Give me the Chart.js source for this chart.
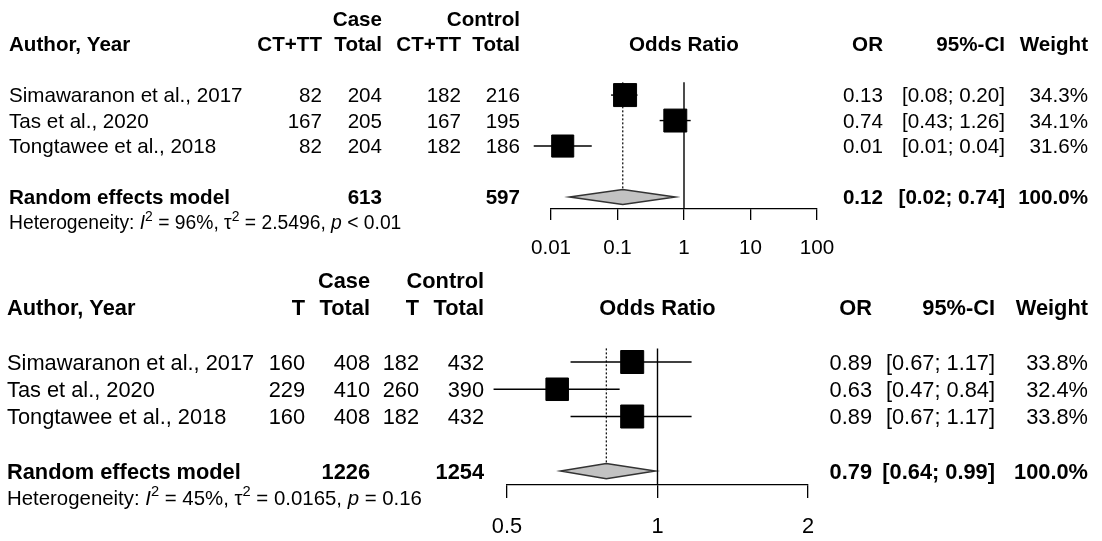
<!DOCTYPE html>
<html>
<head>
<meta charset="utf-8">
<script src="https://cdn.jsdelivr.net/npm/chart.js@4.4.1/dist/chart.umd.min.js"></script>
<style>
  html, body { margin: 0; padding: 0; background: #fff; }
  #wrap { position: relative; width: 1102px; height: 541px; overflow: hidden; background: #fff; }
  .panel { position: absolute; left: 0; width: 1102px; }
</style>
</head>
<body>
<div id="wrap">
  <div class="panel" style="top:0;height:265px"><canvas id="cA"></canvas></div>
  <div class="panel" style="top:265px;height:276px"><canvas id="cB"></canvas></div>
</div>
<script>
// ---------------- DATA ----------------
const studyNames = ["Simawaranon et al., 2017", "Tas et al., 2020", "Tongtawee et al., 2018"];
const studyRows = [1, 2, 3];
const pooledRow = 5;
const pooledLabel = "Random effects model";

// Panel A : CT+TT
const aEventLabel = "CT+TT";
const aCaseEvents = [82, 167, 82];
const aCaseTotals = [204, 205, 204];
const aCtrlEvents = [182, 167, 182];
const aCtrlTotals = [216, 195, 186];
const aOR    = [0.13, 0.74, 0.015];
const aLower = [0.08, 0.43, 0.0055];
const aUpper = [0.20, 1.26, 0.041];
const aORText = ["0.13", "0.74", "0.01"];
const aCIText = ["[0.08; 0.20]", "[0.43; 1.26]", "[0.01; 0.04]"];
const aWeights = [34.3, 34.1, 31.6];
const aPooled = [0.12, 0.019, 0.74];            // OR, lower, upper
const aPooledText = ["0.12", "[0.02; 0.74]", "100.0%"];
const aTicks = [0.01, 0.1, 1, 10, 100];
const aTickLabels = ["0.01", "0.1", "1", "10", "100"];
const aHet = ["96%", "2.5496", "< 0.01"];      // I^2, tau^2, p

// Panel B : T
const bEventLabel = "T";
const bCaseEvents = [160, 229, 160];
const bCaseTotals = [408, 410, 408];
const bCtrlEvents = [182, 260, 182];
const bCtrlTotals = [432, 390, 432];
const bOR    = [0.89, 0.63, 0.89];
const bLower = [0.67, 0.47, 0.67];
const bUpper = [1.17, 0.84, 1.17];
const bORText = ["0.89", "0.63", "0.89"];
const bCIText = ["[0.67; 1.17]", "[0.47; 0.84]", "[0.67; 1.17]"];
const bWeights = [33.8, 32.4, 33.8];
const bPooled = [0.79, 0.64, 0.99];
const bPooledText = ["0.79", "[0.64; 0.99]", "100.0%"];
const bTicks = [0.5, 1, 2];
const bTickLabels = ["0.5", "1", "2"];
const bHet = ["45%", "0.0165", "= 0.16"];

// ---------------- STYLE ----------------
const FONT = '"Liberation Sans", Arial, Helvetica, sans-serif';
const styleA = { canvas: 'cA', font: 20.6, hetFont: 19.3, leftX: 9, colX: [322, 382, 461, 520],
  rightX: [883, 1005, 1088], padL: 551, padR: 285, padB: 0, yMin: -2.73, yMax: 5.47,
  axisH: 56, tickLen: 11, tickPad: 16, box: 23, diamondH: 0.29, textDy: 1.5 };
const styleB = { canvas: 'cB', font: 21.8, hetFont: 20.4, leftX: 7, colX: [305, 370, 419, 484],
  rightX: [872, 995, 1088], padL: 507, padR: 294, padB: 0, yMin: -2.56, yMax: 5.513,
  axisH: 56, tickLen: 13, tickPad: 16, box: 23, diamondH: 0.28, textDy: 1.5 };

function sum(a) { return a.reduce((s, v) => s + v, 0); }

function makePanel(d, st) {
  const maxW = Math.max(...d.weights);
  const sides = d.weights.map(w => st.box * Math.sqrt(w / maxW));

  const datasets = [];
  // study squares
  datasets.push({
    type: 'scatter', order: 0, clip: false,
    data: d.or.map((v, i) => ({ x: v, y: studyRows[i] })),
    pointStyle: 'rect',
    pointRadius: sides.map(s => s / Math.SQRT2),
    backgroundColor: '#000', borderColor: '#000', pointBorderWidth: 1
  });
  // confidence interval lines
  d.or.forEach((v, i) => {
    datasets.push({
      type: 'line', order: 2, clip: false,
      data: [{ x: d.lower[i], y: studyRows[i] }, { x: d.upper[i], y: studyRows[i] }],
      borderColor: '#000', borderWidth: 1.4, pointRadius: 0, fill: false
    });
  });
  // reference line at OR = 1
  datasets.push({
    type: 'line', order: 3, clip: false,
    data: [{ x: 1, y: 0.5 }, { x: 1, y: st.yMax }],
    borderColor: '#000', borderWidth: 1.4, pointRadius: 0, fill: false
  });
  // dotted pooled line
  datasets.push({
    type: 'line', order: 3, clip: false,
    data: [{ x: d.pooled[0], y: 0.5 }, { x: d.pooled[0], y: pooledRow - st.diamondH }],
    borderColor: '#000', borderWidth: 1.2, borderDash: [2, 2], pointRadius: 0, fill: false
  });

  const diamondPlugin = {
    id: 'diamond',
    beforeDatasetsDraw(chart) {
      const x = chart.scales.x, y = chart.scales.y, ctx = chart.ctx;
      const [est, lo, hi] = d.pooled;
      ctx.save();
      ctx.beginPath();
      ctx.moveTo(x.getPixelForValue(lo), y.getPixelForValue(pooledRow));
      ctx.lineTo(x.getPixelForValue(est), y.getPixelForValue(pooledRow - st.diamondH));
      ctx.lineTo(x.getPixelForValue(hi), y.getPixelForValue(pooledRow));
      ctx.lineTo(x.getPixelForValue(est), y.getPixelForValue(pooledRow + st.diamondH));
      ctx.closePath();
      ctx.fillStyle = '#c2c2c2';
      ctx.fill();
      ctx.lineWidth = 1.5;
      ctx.strokeStyle = '#333';
      ctx.stroke();
      ctx.restore();
    }
  };

  const textPlugin = {
    id: 'tableText',
    afterDraw(chart) {
      const ctx = chart.ctx, y = chart.scales.y, ca = chart.chartArea;
      const py = v => y.getPixelForValue(v) + st.textDy;
      const put = (t, px, row, align, bold, size) => {
        ctx.font = (bold ? 'bold ' : '') + (size || st.font) + 'px ' + FONT;
        ctx.textAlign = align; ctx.textBaseline = 'middle'; ctx.fillStyle = '#000';
        ctx.fillText(String(t), px, py(row));
      };
      ctx.save();
      // headers
      put('Case', st.colX[1], -2, 'right', true);
      put('Control', st.colX[3], -2, 'right', true);
      put('Author, Year', st.leftX, -1, 'left', true);
      put(d.eventLabel, st.colX[0], -1, 'right', true);
      put('Total', st.colX[1], -1, 'right', true);
      put(d.eventLabel, st.colX[2], -1, 'right', true);
      put('Total', st.colX[3], -1, 'right', true);
      put('Odds Ratio', (ca.left + ca.right) / 2, -1, 'center', true);
      put('OR', st.rightX[0], -1, 'right', true);
      put('95%-CI', st.rightX[1], -1, 'right', true);
      put('Weight', st.rightX[2], -1, 'right', true);
      // study rows
      studyNames.forEach((n, i) => {
        const r = studyRows[i];
        put(n, st.leftX, r, 'left', false);
        put(d.caseEvents[i], st.colX[0], r, 'right', false);
        put(d.caseTotals[i], st.colX[1], r, 'right', false);
        put(d.ctrlEvents[i], st.colX[2], r, 'right', false);
        put(d.ctrlTotals[i], st.colX[3], r, 'right', false);
        put(d.orText[i], st.rightX[0], r, 'right', false);
        put(d.ciText[i], st.rightX[1], r, 'right', false);
        put(d.weights[i].toFixed(1) + '%', st.rightX[2], r, 'right', false);
      });
      // pooled row
      put(pooledLabel, st.leftX, pooledRow, 'left', true);
      put(sum(d.caseTotals), st.colX[1], pooledRow, 'right', true);
      put(sum(d.ctrlTotals), st.colX[3], pooledRow, 'right', true);
      put(d.pooledText[0], st.rightX[0], pooledRow, 'right', true);
      put(d.pooledText[1], st.rightX[1], pooledRow, 'right', true);
      put(d.pooledText[2], st.rightX[2], pooledRow, 'right', true);
      // heterogeneity (rich text)
      const hs = st.hetFont;
      const segs = [
        ['Heterogeneity: ', ''], ['I', 'i'], ['2', 's'], [' = ' + d.het[0] + ', ', ''],
        ['\u03C4', ''], ['2', 's'], [' = ' + d.het[1] + ', ', ''], ['p', 'i'], [' ' + d.het[2], '']
      ];
      let hx = st.leftX;
      const hy = py(6);
      ctx.textAlign = 'left'; ctx.textBaseline = 'middle'; ctx.fillStyle = '#000';
      segs.forEach(([t, k]) => {
        let f = hs, dy = 0, style = '';
        if (k === 's') { f = hs * 0.72; dy = -hs * 0.38; }
        if (k === 'i') { style = 'italic '; }
        ctx.font = style + f + 'px ' + FONT;
        ctx.fillText(t, hx, hy + dy);
        hx += ctx.measureText(t).width;
      });
      ctx.restore();
    }
  };

  return new Chart(document.getElementById(st.canvas), {
    type: 'scatter',
    data: { datasets },
    plugins: [diamondPlugin, textPlugin],
    options: {
      responsive: true, maintainAspectRatio: false, animation: false, events: [],
      layout: { autoPadding: false, padding: { left: st.padL, right: st.padR, top: 0, bottom: st.padB } },
      plugins: { legend: { display: false }, tooltip: { enabled: false } },
      scales: {
        x: {
          type: 'logarithmic', position: 'bottom', min: d.ticks[0], max: d.ticks[d.ticks.length - 1],
          afterBuildTicks: s => { s.ticks = d.ticks.map(v => ({ value: v })); },
          afterFit: s => { s.height = st.axisH; },
          ticks: {
            autoSkip: false, maxRotation: 0, minRotation: 0, padding: st.tickPad, color: '#000',
            font: { family: FONT, size: st.font },
            callback: (v, i) => d.tickLabels[i]
          },
          grid: { display: true, drawOnChartArea: false, drawTicks: true, tickLength: st.tickLen,
                  color: '#000', lineWidth: 1.3 },
          border: { display: true, color: '#000', width: 1.3 }
        },
        y: { type: 'linear', min: st.yMin, max: st.yMax, reverse: true, display: false }
      }
    }
  });
}

makePanel({
  eventLabel: aEventLabel, caseEvents: aCaseEvents, caseTotals: aCaseTotals,
  ctrlEvents: aCtrlEvents, ctrlTotals: aCtrlTotals, or: aOR, lower: aLower, upper: aUpper,
  orText: aORText, ciText: aCIText, weights: aWeights, pooled: aPooled, pooledText: aPooledText,
  ticks: aTicks, tickLabels: aTickLabels, het: aHet
}, styleA);

makePanel({
  eventLabel: bEventLabel, caseEvents: bCaseEvents, caseTotals: bCaseTotals,
  ctrlEvents: bCtrlEvents, ctrlTotals: bCtrlTotals, or: bOR, lower: bLower, upper: bUpper,
  orText: bORText, ciText: bCIText, weights: bWeights, pooled: bPooled, pooledText: bPooledText,
  ticks: bTicks, tickLabels: bTickLabels, het: bHet
}, styleB);
</script>
</body>
</html>
